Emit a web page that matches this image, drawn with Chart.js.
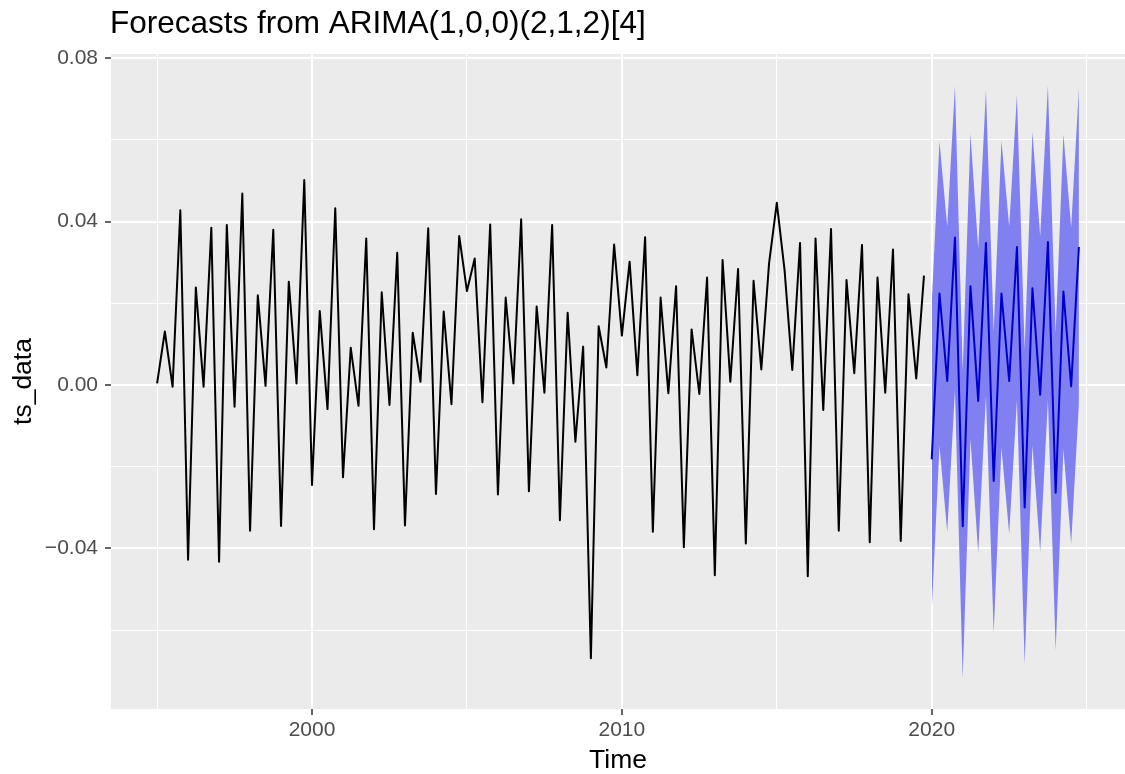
<!DOCTYPE html>
<html>
<head>
<meta charset="utf-8">
<script src="https://cdn.jsdelivr.net/npm/chart.js@4"></script>
<style>
  html, body { margin: 0; padding: 0; background: #ffffff; }
  #wrap { width: 1125px; height: 774px; }
</style>
</head>
<body>
<div id="wrap"><canvas id="chart" width="1125" height="774"></canvas></div>
<script>
// quarterly series, 1995 Q1 .. 2019 Q4
const startYear = 1995;
const frequency = 4;
const tsData = [
  0.0004, 0.0131, -0.0004, 0.0428, -0.0428, 0.0239, -0.0004, 0.0385, -0.0433, 0.0392,
  -0.0053, 0.0469, -0.0357, 0.0220, -0.0002, 0.0380, -0.0345, 0.0253, 0.0004, 0.0502,
  -0.0245, 0.0181, -0.0059, 0.0433, -0.0226, 0.0091, -0.0051, 0.0359, -0.0353, 0.0227,
  -0.0049, 0.0324, -0.0344, 0.0128, 0.0008, 0.0384, -0.0267, 0.0180, -0.0047, 0.0365,
  0.0230, 0.0310, -0.0042, 0.0393, -0.0268, 0.0214, 0.0004, 0.0406, -0.0260, 0.0192,
  -0.0019, 0.0392, -0.0331, 0.0177, -0.0139, 0.0094, -0.0669, 0.0144, 0.0043, 0.0344,
  0.0121, 0.0302, 0.0024, 0.0362, -0.0359, 0.0214, -0.0020, 0.0242, -0.0397, 0.0136,
  -0.0022, 0.0263, -0.0466, 0.0306, 0.0008, 0.0284, -0.0388, 0.0255, 0.0038, 0.0298,
  0.0446, 0.0282, 0.0037, 0.0348, -0.0468, 0.0359, -0.0061, 0.0382, -0.0357, 0.0257,
  0.0029, 0.0343, -0.0385, 0.0263, -0.0019, 0.0332, -0.0382, 0.0222, 0.0016, 0.0268
];

// forecasts, 2020 Q1 .. 2024 Q4
const fcStart = 2020;
const fcMean = [
  -0.0182, 0.0224, 0.0010, 0.0361, -0.0346, 0.0242, -0.0039, 0.0348, -0.0235, 0.0224,
  0.0010, 0.0338, -0.0300, 0.0237, -0.0024, 0.0350, -0.0264, 0.0229, -0.0003, 0.0338
];
const fcUpper = [
  0.0200, 0.0596, 0.0388, 0.0733, 0.0036, 0.0615, 0.0335, 0.0722, 0.0132, 0.0598,
  0.0388, 0.0710, 0.0089, 0.0620, 0.0364, 0.0733, 0.0128, 0.0614, 0.0386, 0.0727
];
const fcLower = [
  -0.0555, -0.0148, -0.0360, -0.0013, -0.0718, -0.0133, -0.0411, -0.0027, -0.0607, -0.0153,
  -0.0365, -0.0037, -0.0684, -0.0148, -0.0409, -0.0037, -0.0650, -0.0157, -0.0389, -0.0046
];

const xMajor = [2000, 2010, 2020];
const xMinor = [1995, 2005, 2015, 2025];
const yMajor = [-0.04, 0, 0.04, 0.08];
const yMinor = [-0.06, -0.02, 0.02, 0.06];

const titleText = 'Forecasts from ARIMA(1,0,0)(2,1,2)[4]';
const xTitle = 'Time';
const yTitle = 'ts_data';

const FONT = '"Liberation Sans", Arial, Helvetica, sans-serif';
const PANEL = '#EBEBEB';

function toPoints(start, values){
  return values.map((v, i) => ({ x: start + i / frequency, y: v }));
}

function isMajor(list, v){
  return list.some(m => Math.abs(m - v) < 1e-9);
}

function fmtY(v){
  if(Math.abs(v) < 1e-9) return '0.00';
  return (v < 0 ? '\u2212' : '') + Math.abs(v).toFixed(2);
}

// grey panel + titles, drawn like ggplot
const ggDecor = {
  id: 'ggDecor',
  beforeDraw(chart){
    const a = chart.chartArea, ctx = chart.ctx;
    ctx.save();
    ctx.fillStyle = PANEL;
    ctx.fillRect(a.left, a.top, a.right - a.left, a.bottom - a.top);
    ctx.restore();
  },
  afterDraw(chart){
    const a = chart.chartArea, ctx = chart.ctx;
    ctx.save();
    ctx.fillStyle = '#000000';
    ctx.font = '31.5px ' + FONT;
    ctx.textAlign = 'left';
    ctx.textBaseline = 'alphabetic';
    ctx.fillText(titleText, a.left - 1, 33);

    ctx.font = '26.5px ' + FONT;
    ctx.textAlign = 'center';
    ctx.fillText(xTitle, (a.left + a.right) / 2, 768);

    ctx.translate(24, (a.top + a.bottom) / 2);
    ctx.rotate(-Math.PI / 2);
    ctx.textBaseline = 'middle';
    ctx.fillText(yTitle, 0, 0);
    ctx.restore();
  }
};

function gridWidth(list){
  return c => (c.tick && isMajor(list, c.tick.value)) ? 2 : 1;
}
function tickColor(list){
  return c => (c.tick && isMajor(list, c.tick.value)) ? '#333333' : 'rgba(0,0,0,0)';
}

new Chart(document.getElementById('chart').getContext('2d'), {
  type: 'line',
  data: {
    datasets: [
      {
        label: 'upper',
        data: toPoints(fcStart, fcUpper),
        borderWidth: 0,
        pointRadius: 0,
        backgroundColor: 'rgb(128,128,240)',
        fill: '+1',
        order: 5
      },
      {
        label: 'lower',
        data: toPoints(fcStart, fcLower),
        borderWidth: 0,
        pointRadius: 0,
        fill: false,
        order: 6
      },
      {
        label: 'ts_data',
        data: toPoints(startYear, tsData),
        borderColor: '#000000',
        borderWidth: 2,
        borderJoinStyle: 'round',
        pointRadius: 0,
        fill: false,
        order: 1
      },
      {
        label: 'forecast',
        data: toPoints(fcStart, fcMean),
        borderColor: '#0000CC',
        borderWidth: 2,
        borderJoinStyle: 'round',
        pointRadius: 0,
        fill: false,
        order: 0
      }
    ]
  },
  options: {
    responsive: false,
    animation: false,
    layout: { padding: { top: 54, right: 0, bottom: 0, left: 0 } },
    plugins: {
      legend: { display: false },
      tooltip: { enabled: false },
      title: { display: false }
    },
    scales: {
      x: {
        type: 'linear',
        min: 1993.5125,
        max: 2026.2375,
        afterFit(s){ s.height = 65; },
        afterBuildTicks(s){
          s.ticks = xMinor.concat(xMajor).sort((a, b) => a - b).map(v => ({ value: v }));
        },
        border: { display: false },
        grid: {
          color: '#FFFFFF',
          lineWidth: gridWidth(xMajor),
          tickColor: tickColor(xMajor),
          tickLength: 6,
          tickWidth: 1.5
        },
        ticks: {
          autoSkip: false,
          maxRotation: 0,
          padding: 3,
          color: '#4D4D4D',
          font: { family: FONT, size: 21 },
          callback: v => isMajor(xMajor, v) ? String(v) : ''
        }
      },
      y: {
        type: 'linear',
        min: -0.07933,
        max: 0.08105,
        afterFit(s){ s.width = 111; },
        afterBuildTicks(s){
          s.ticks = yMinor.concat(yMajor).sort((a, b) => a - b).map(v => ({ value: v }));
        },
        border: { display: false },
        grid: {
          color: '#FFFFFF',
          lineWidth: gridWidth(yMajor),
          tickColor: tickColor(yMajor),
          tickLength: 6,
          tickWidth: 1.5
        },
        ticks: {
          autoSkip: false,
          padding: 7,
          color: '#4D4D4D',
          font: { family: FONT, size: 21 },
          callback: v => isMajor(yMajor, v) ? fmtY(v) : ''
        }
      }
    }
  },
  plugins: [ggDecor]
});
</script>
</body>
</html>
